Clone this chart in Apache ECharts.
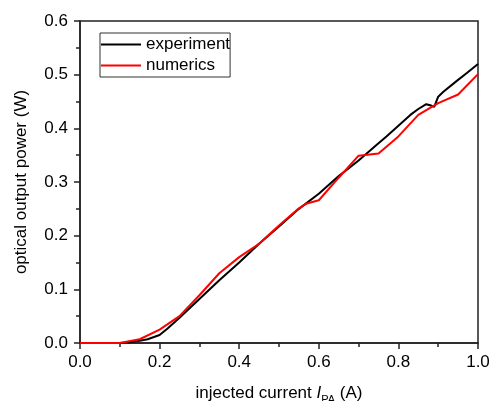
<!DOCTYPE html>
<html>
<head>
<meta charset="utf-8">
<script src="https://cdn.jsdelivr.net/npm/echarts@6/dist/echarts.min.js"></script>
<style>
  html, body { margin: 0; padding: 0; background: #fff; }
  #main { width: 489px; height: 401px; }
</style>
</head>
<body>
<div id="main"></div>
<script>
// experiment curve (current A, power W)
var expCurrent = [0, 0.10, 0.12, 0.15, 0.17, 0.20, 0.22, 0.25, 0.30, 0.35, 0.40, 0.45, 0.50, 0.55, 0.60, 0.65, 0.70, 0.75, 0.77, 0.80, 0.83, 0.85, 0.87, 0.88, 0.89, 0.90, 0.913, 0.946, 0.972, 1.0];
var expPower   = [0, 0, 0.001, 0.004, 0.007, 0.015, 0.027, 0.047, 0.082, 0.117, 0.150, 0.185, 0.217, 0.250, 0.278, 0.311, 0.340, 0.372, 0.385, 0.405, 0.425, 0.436, 0.445, 0.443, 0.440, 0.459, 0.468, 0.488, 0.503, 0.520];
// numerics curve
var numCurrent = [0, 0.10, 0.15, 0.20, 0.25, 0.30, 0.35, 0.40, 0.45, 0.50, 0.55, 0.57, 0.60, 0.65, 0.70, 0.75, 0.80, 0.85, 0.90, 0.95, 1.0];
var numPower   = [0, 0, 0.007, 0.025, 0.050, 0.089, 0.130, 0.160, 0.185, 0.219, 0.251, 0.260, 0.266, 0.308, 0.349, 0.353, 0.385, 0.425, 0.447, 0.463, 0.501];

function pairs(xs, ys) {
  var out = [];
  for (var i = 0; i < xs.length; i++) out.push([xs[i], ys[i]]);
  return out;
}

var font = 'Arial, "Liberation Sans", sans-serif';
var myChart = echarts.init(document.getElementById('main'));
var option = {
  animation: false,
  textStyle: { fontFamily: font },
  grid: {
    left: 80, right: 11, top: 21, bottom: 58,
    outerBoundsMode: 'none',
    show: true, borderColor: '#222', borderWidth: 1.5
  },
  legend: {
    left: 100, top: 33,
    orient: 'vertical',
    icon: 'rect',
    itemWidth: 40, itemHeight: 2,
    itemGap: 4,
    padding: [3, 0, 3, 1],
    borderColor: '#333', borderWidth: 1,
    textStyle: { fontSize: 17, color: '#000', fontFamily: font },
    data: ['experiment', 'numerics']
  },
  xAxis: {
    type: 'value', min: 0, max: 1, interval: 0.2,
    name: '{n|injected current }{i|I}{s|PA}{n| (A)}',
    nameLocation: 'middle', nameGap: 38,
    nameTextStyle: {
      rich: {
        n: { fontSize: 17, color: '#000', lineHeight: 24, fontFamily: font },
        i: { fontSize: 17, color: '#000', lineHeight: 24, fontStyle: 'italic', fontFamily: font },
        s: { fontSize: 11, color: '#000', verticalAlign: 'bottom', fontFamily: font }
      }
    },
    axisLine: { lineStyle: { color: '#222', width: 1.5 } },
    axisTick: { length: 6, lineStyle: { color: '#222', width: 1.5 } },
    minorTick: { show: true, splitNumber: 2, length: 4, lineStyle: { color: '#222', width: 1.5 } },
    axisLabel: { fontSize: 17, color: '#000', margin: 11, formatter: function (v) { return v.toFixed(1); } },
    splitLine: { show: false }
  },
  yAxis: {
    type: 'value', min: 0, max: 0.6, interval: 0.1,
    name: 'optical output power (W)',
    nameLocation: 'middle', nameGap: 50,
    nameTextStyle: { fontSize: 17, color: '#000' },
    axisLine: { show: true, lineStyle: { color: '#222', width: 1.5 } },
    axisTick: { show: true, length: 6, lineStyle: { color: '#222', width: 1.5 } },
    minorTick: { show: true, splitNumber: 2, length: 4, lineStyle: { color: '#222', width: 1.5 } },
    axisLabel: { fontSize: 17, color: '#000', margin: 12, formatter: function (v) { return v.toFixed(1); } },
    splitLine: { show: false }
  },
  series: [
    {
      name: 'experiment', type: 'line', showSymbol: false, symbol: 'none',
      data: pairs(expCurrent, expPower),
      lineStyle: { color: '#000', width: 2 }, itemStyle: { color: '#000' }
    },
    {
      name: 'numerics', type: 'line', showSymbol: false, symbol: 'none',
      data: pairs(numCurrent, numPower),
      lineStyle: { color: '#ff0000', width: 2 }, itemStyle: { color: '#ff0000' }
    }
  ]
};
myChart.setOption(option);
</script>
</body>
</html>
